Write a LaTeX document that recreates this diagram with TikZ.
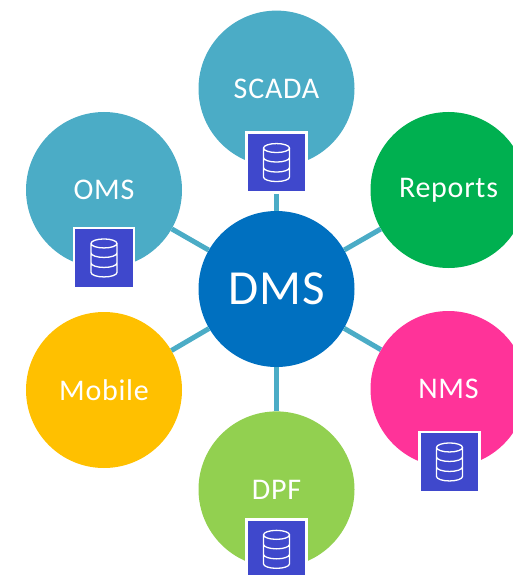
\documentclass[tikz,border=0pt]{standalone}
\usepackage{fontspec}
\setmainfont[LetterSpace=2.5]{Carlito}
\usetikzlibrary{positioning}

\definecolor{teal}{HTML}{4BACC6}
\definecolor{hubblue}{HTML}{0070C0}
\definecolor{dbblue}{HTML}{3F48CC}
\definecolor{repgreen}{HTML}{00B050}
\definecolor{mobyellow}{HTML}{FFC000}
\definecolor{nmspink}{HTML}{FF3399}
\definecolor{dpfgreen}{HTML}{92D050}

\tikzset{
  spoke/.style={circle, minimum size=156pt, inner sep=0pt, text=white, font=\fontsize{30}{34}\selectfont},
  hub/.style={spoke, font=\fontsize{49}{54}\selectfont},
  dbbox/.style={draw=white, line width=2.5pt, fill=dbblue, minimum size=60pt, inner sep=0pt},
  link/.style={draw=teal, line width=5pt},
  dbicon/.pic={
    \draw[white, line width=1.3pt]
      (-13,-14.5) -- (-13,14.5) arc[start angle=180, end angle=360, x radius=13pt, y radius=4.5pt] -- (13,-14.5)
      (-13,-14.5) arc[start angle=180, end angle=-180, x radius=13pt, y radius=4.5pt]
      (-13,-5) arc[start angle=180, end angle=360, x radius=13pt, y radius=4.5pt]
      (-13,5) arc[start angle=180, end angle=360, x radius=13pt, y radius=4.5pt];
  },
}

\begin{document}
\begin{tikzpicture}[x=1pt, y=-1pt]
  \useasboundingbox (0,0) rectangle (513,575);

  \node[hub, fill=hubblue] (dms) at (276.5,289) {DMS};

  \node[spoke, fill=teal, above=44pt of dms] (scada) {SCADA};
  \node[spoke, fill=dpfgreen, below=44pt of dms] (dpf) {DPF};
  \node[spoke, fill=teal] (oms) at (104,190) {OMS};
  \node[spoke, fill=repgreen] (reports) at (448.5,190) {Reports};
  \node[spoke, fill=mobyellow] (mobile) at (104,390) {Mobile};
  \node[spoke, fill=nmspink] (nms) at (448.5,389) {NMS};

  \node[dbbox, below=-35.5pt of scada] (dbscada) {};
  \node[dbbox, below=-41.5pt of oms] (dboms) {};
  \node[dbbox, below=-36.5pt of nms, xshift=1pt] (dbnms) {};
  \node[dbbox, below=-49.5pt of dpf] (dbdpf) {};

  \pic at (dbscada) {dbicon};
  \pic at (dboms) {dbicon};
  \pic at (dbnms) {dbicon};
  \pic at (dbdpf) {dbicon};

  \draw[link] (dbscada) -- (dms);
  \draw[link] (oms) -- (dms);
  \draw[link] (reports) -- (dms);
  \draw[link] (mobile) -- (dms);
  \draw[link] (nms) -- (dms);
  \draw[link] (dpf) -- (dms);
\end{tikzpicture}
\end{document}
